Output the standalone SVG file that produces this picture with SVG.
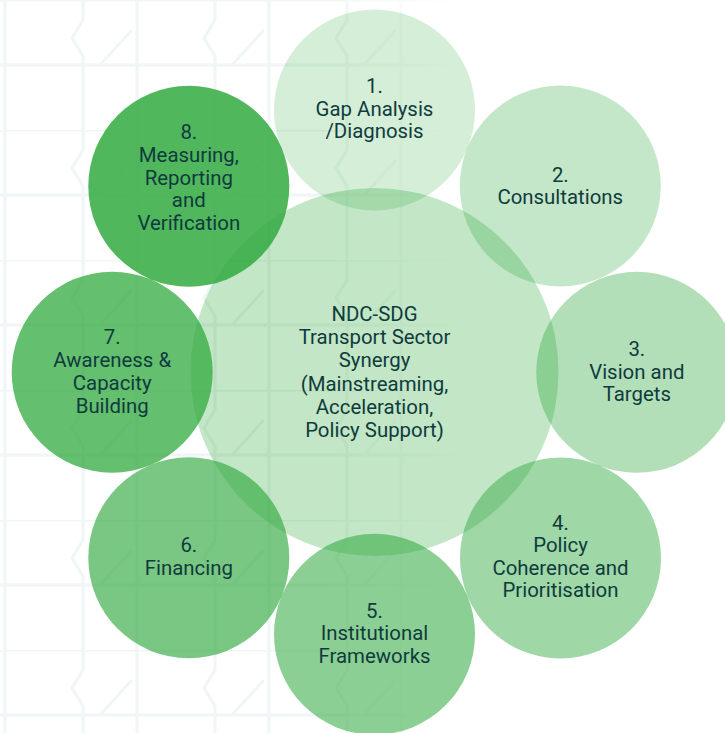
<svg xmlns="http://www.w3.org/2000/svg" width="725" height="733" viewBox="0 0 725 733">
  <style>
    .c { fill: #2ea83c; }
    .t { font-family: Roboto, "Liberation Sans", sans-serif; font-size: 20.4px; fill: #0f3b3d; text-anchor: middle; }
    .bg { fill: none; stroke: #f0f6f6; stroke-width: 3; }
  </style>
  <defs>
    <pattern id="geo" x="0" y="0" width="132" height="130" patternUnits="userSpaceOnUse">
      <path class="bg" d="M5 0V130 M83 0V20 L72 38 L83 56 V130 M0 0H132 M0 65H132 M100 65 L132 30"/>
    </pattern>
    <linearGradient id="fade" x1="0" y1="0" x2="1" y2="0">
      <stop offset="0" stop-color="#fff" stop-opacity="1"/>
      <stop offset="0.7" stop-color="#fff" stop-opacity="1"/>
      <stop offset="1" stop-color="#fff" stop-opacity="0"/>
    </linearGradient>
    <mask id="fm">
      <rect x="0" y="0" width="460" height="733" fill="url(#fade)"/>
    </mask>
  </defs>
  <rect x="0" y="0" width="725" height="733" fill="#ffffff"/>
  <g id="background" mask="url(#fm)">
    <rect x="0" y="0" width="460" height="733" fill="url(#geo)"/>
  </g>

  <g id="center">
    <circle class="c" cx="374.5" cy="372" r="184" fill-opacity="0.29"/>
  </g>
  <g id="node1">
    <circle class="c" cx="374.5" cy="110" r="100.5" fill-opacity="0.2"/>
  </g>
  <g id="node2">
    <circle class="c" cx="560.3" cy="186" r="100.5" fill-opacity="0.28"/>
  </g>
  <g id="node3">
    <circle class="c" cx="636.8" cy="372.3" r="100.5" fill-opacity="0.37"/>
  </g>
  <g id="node4">
    <circle class="c" cx="560.5" cy="558" r="100.5" fill-opacity="0.46"/>
  </g>
  <g id="node5">
    <circle class="c" cx="374.5" cy="634.3" r="100.5" fill-opacity="0.55"/>
  </g>
  <g id="node6">
    <circle class="c" cx="188.8" cy="557.8" r="100.5" fill-opacity="0.64"/>
  </g>
  <g id="node7">
    <circle class="c" cx="112.2" cy="372.2" r="100.5" fill-opacity="0.74"/>
  </g>
  <g id="node8">
    <circle class="c" cx="188.8" cy="186.3" r="100.5" fill-opacity="0.83"/>
  </g>

  <g id="connectors"></g>

  <g id="labels">
    <text class="t" x="374.5" y="321">NDC-SDG</text>
    <text class="t" x="374.5" y="344">Transport Sector</text>
    <text class="t" x="374.5" y="367">Synergy</text>
    <text class="t" x="374.5" y="390.5">(Mainstreaming,</text>
    <text class="t" x="374.5" y="413.5">Acceleration,</text>
    <text class="t" x="374.5" y="436.5">Policy Support)</text>

    <text class="t" x="374.5" y="93">1.</text>
    <text class="t" x="374.5" y="115.5">Gap Analysis</text>
    <text class="t" x="374.5" y="138">/Diagnosis</text>

    <text class="t" x="560.3" y="181.5">2.</text>
    <text class="t" x="560.3" y="203.5">Consultations</text>

    <text class="t" x="636.8" y="356">3.</text>
    <text class="t" x="636.8" y="378.5">Vision and</text>
    <text class="t" x="636.8" y="400.5">Targets</text>

    <text class="t" x="560.5" y="530">4.</text>
    <text class="t" x="560.5" y="552">Policy</text>
    <text class="t" x="560.5" y="574.5">Coherence and</text>
    <text class="t" x="560.5" y="597">Prioritisation</text>

    <text class="t" x="374.5" y="617.5">5.</text>
    <text class="t" x="374.5" y="640">Institutional</text>
    <text class="t" x="374.5" y="662.5">Frameworks</text>

    <text class="t" x="188.8" y="552">6.</text>
    <text class="t" x="188.8" y="574.5">Financing</text>

    <text class="t" x="112.2" y="343.5">7.</text>
    <text class="t" x="112.2" y="366.5">Awareness &amp;</text>
    <text class="t" x="112.2" y="389.5">Capacity</text>
    <text class="t" x="112.2" y="412.5">Building</text>

    <text class="t" x="188.8" y="138.5">8.</text>
    <text class="t" x="188.8" y="161.5">Measuring,</text>
    <text class="t" x="188.8" y="184.5">Reporting</text>
    <text class="t" x="188.8" y="207">and</text>
    <text class="t" x="188.8" y="230">Verification</text>
  </g>
</svg>
